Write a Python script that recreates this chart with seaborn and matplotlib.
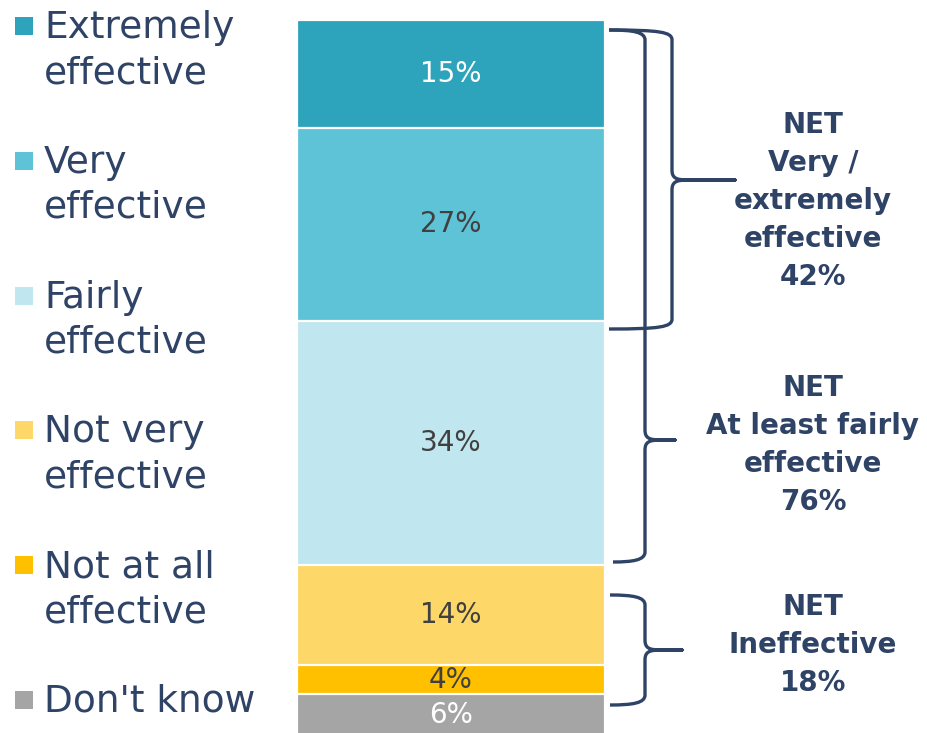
import matplotlib
matplotlib.use("Agg")
import matplotlib.pyplot as plt
from matplotlib.path import Path
from matplotlib.patches import PathPatch, Rectangle
import seaborn as sns
import pandas as pd
import numpy as np

# ---------------- data ----------------
categories = ["Extremely effective", "Very effective", "Fairly effective",
              "Not very effective", "Not at all effective", "Don't know"]
legend_lines = [["Extremely", "effective"], ["Very", "effective"],
                ["Fairly", "effective"], ["Not very", "effective"],
                ["Not at all", "effective"], ["Don't know"]]
values = [15, 27, 34, 14, 4, 6]
colors = ["#2EA3BC", "#5FC3D8", "#C0E6EF", "#FDD767", "#FFC000", "#A5A5A5"]
label_colors = ["white", "#404040", "#404040", "#404040", "#404040", "white"]
net_titles = [["NET", "Very /", "extremely", "effective"],
              ["NET", "At least fairly", "effective"],
              ["NET", "Ineffective"]]
net_members = [[0, 1], [0, 1, 2], [3, 4]]

NAVY = "#2E4366"

sns.set_theme(style="white")
plt.rcParams["font.family"] = ["DejaVu Sans"]

W, H = 927, 733
fig = plt.figure(figsize=(W / 100, H / 100), dpi=100)

# scale: pixels per percentage point, bar top at pixel 20
K = 7.17
TOP = 20

# ---------------- bar ----------------
bx0, bx1 = 297, 605
axb = fig.add_axes([bx0 / W, 0, (bx1 - bx0) / W, 1])
cum = np.cumsum(values)
for i in range(len(values) - 1, -1, -1):
    d = pd.DataFrame({"grp": ["All"], "cum": [cum[i]]})
    sns.barplot(data=d, x="grp", y="cum", color=colors[i], width=1.0,
                saturation=1, edgecolor="white", linewidth=1.6, ax=axb)
axb.set_xlim(-0.5, 0.5)
axb.set_ylim((H - TOP) / K, -TOP / K)
axb.axis("off")

starts = cum - np.array(values)
for i, v in enumerate(values):
    axb.text(0, starts[i] + v / 2, f"{v}%", ha="center", va="center",
             fontsize=20, fontweight="normal", color=label_colors[i])

# ---------------- overlay (pixel coords) ----------------
ax = fig.add_axes([0, 0, 1, 1])
ax.set_xlim(0, W)
ax.set_ylim(H, 0)
ax.axis("off")

# legend
base0, step, line_gap = 38, 134.8, 45
for i, lines in enumerate(legend_lines):
    b = base0 + i * step
    ax.add_patch(Rectangle((15, b - 21), 18, 18, facecolor=colors[i],
                           edgecolor="none"))
    for j, t in enumerate(lines):
        ax.text(44, b + j * line_gap, t, ha="left", va="baseline",
                fontsize=27, color=NAVY)


def brace(x0_top, x0_bot, xv, xt, yt, yb, ym, r=10):
    verts = [(x0_top, yt), (xv - 12, yt), (xv, yt + 2), (xv, yt + r),
             (xv, ym - r),
             (xv, ym - 2), (xv + 4, ym), (xv + 16, ym),
             (xt, ym),
             (xv + 16, ym),
             (xv + 4, ym), (xv, ym + 2), (xv, ym + r),
             (xv, yb - r),
             (xv, yb - 2), (xv - 12, yb), (x0_bot, yb)]
    codes = [Path.MOVETO, Path.CURVE4, Path.CURVE4, Path.CURVE4,
             Path.LINETO,
             Path.CURVE4, Path.CURVE4, Path.CURVE4,
             Path.LINETO,
             Path.LINETO,
             Path.CURVE4, Path.CURVE4, Path.CURVE4,
             Path.LINETO,
             Path.CURVE4, Path.CURVE4, Path.CURVE4]
    ax.add_patch(PathPatch(Path(verts, codes), facecolor="none",
                           edgecolor=NAVY, lw=2.4, capstyle="butt",
                           joinstyle="round"))


# brace geometry (layout)
brace(609, 609, 672, 735, 30, 329, 180)
brace(609, 613, 645, 675, 30, 562, 440)
brace(610, 610, 645, 682, 595, 705, 650)

# NET texts
net_first_line = [125, 388, 607]
for k, (title, members) in enumerate(zip(net_titles, net_members)):
    total = sum(values[m] for m in members)
    lines = title + [f"{total}%"]
    for j, t in enumerate(lines):
        ax.text(813, net_first_line[k] + j * 38, t, ha="center", va="center",
                fontsize=20, fontweight="bold", color=NAVY)

fig.savefig("out.png", dpi=100)
